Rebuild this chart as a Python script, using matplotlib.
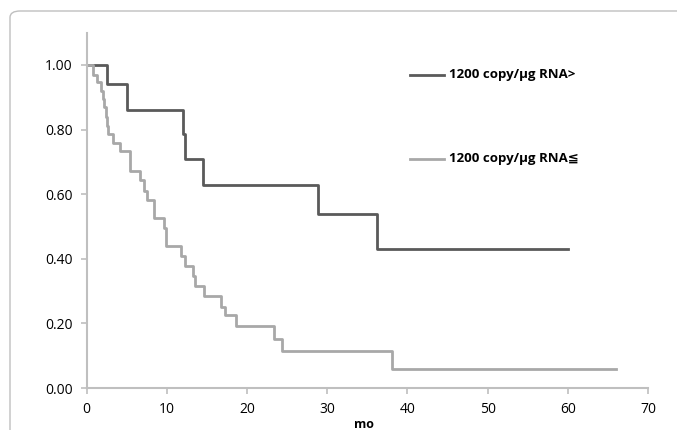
import matplotlib
matplotlib.use("Agg")
import matplotlib.pyplot as plt
from matplotlib.patches import FancyBboxPatch

plt.rcParams['font.family'] = ['Open Sans', 'DejaVu Sans']

# high group (dark line)
t_high = [0, 2.5, 5.0, 12.0, 12.3, 14.5, 28.8, 36.2, 60]
s_high = [1.0, 0.94, 0.862, 0.785, 0.71, 0.628, 0.539, 0.431, 0.431]

# low group (light line)
t_low = [0, 0.8, 1.25, 1.8, 2.0, 2.2, 2.4, 2.55, 2.7, 3.3, 4.1, 5.4, 6.65, 7.1,
         7.5, 8.4, 9.6, 9.9, 11.7, 12.2, 13.2, 13.45, 14.6, 16.8, 17.2, 18.6,
         23.3, 24.3, 38.1, 66]
s_low = [1.0, 0.97, 0.948, 0.92, 0.895, 0.87, 0.84, 0.81, 0.785, 0.76, 0.733,
         0.673, 0.645, 0.611, 0.581, 0.527, 0.496, 0.44, 0.409, 0.378, 0.348,
         0.317, 0.286, 0.25, 0.225, 0.191, 0.153, 0.115, 0.058, 0.058]

labels = ["1200 copy/\u03bcg RNA>", "1200 copy/\u03bcg RNA\u2266"]
x_ticks = [0, 10, 20, 30, 40, 50, 60, 70]
y_ticks = [0.0, 0.2, 0.4, 0.6, 0.8, 1.0]

W, H = 677, 430
fig = plt.figure(figsize=(W / 100, H / 100), dpi=100)

# rounded chart frame
frame = FancyBboxPatch((10 / W, -30 / H), 680 / W, (H - 11 + 30) / H,
                       boxstyle="round,pad=0,rounding_size=0.015",
                       transform=fig.transFigure, fill=False,
                       edgecolor="#BFBFBF", linewidth=1.0)
fig.patches.append(frame)

ax = fig.add_axes([86.7 / W, 1 - 388 / H, (648 - 86.7) / W, (388 - 32.7) / H])

dark = "#5A5A5A"
light = "#A8A8A8"
ax.step(t_high, s_high, where="post", color=dark, lw=2.0)
ax.step(t_low, s_low, where="post", color=light, lw=2.0)

ax.set_xlim(0, 70)
ax.set_ylim(0, 1.1)
ax.set_xticks(x_ticks)
ax.set_yticks(y_ticks)
ax.set_yticklabels(["%.2f" % v for v in y_ticks])

for side in ["top", "right"]:
    ax.spines[side].set_visible(False)
for side in ["left", "bottom"]:
    ax.spines[side].set_color("#BFBFBF")
    ax.spines[side].set_linewidth(1.5)
ax.tick_params(axis="both", direction="out", length=4, width=1.2,
               color="#BFBFBF", labelsize=10, labelcolor="black")
ax.tick_params(axis="y", pad=6)
ax.tick_params(axis="x", pad=6)

# legend drawn by hand
for y, c, lab in [(0.97, dark, labels[0]), (0.71, light, labels[1])]:
    ax.plot([40.3, 44.6], [y, y], color=c, lw=2.0, clip_on=False)
    ax.text(45.2, y, lab, fontsize=9.5, fontweight="bold", va="center", ha="left")

fig.text((86.7 + 648) / 2 / W - 0.005, 6 / H, "mo", fontsize=9, fontweight="bold",
         ha="center", va="center")

fig.savefig("out.png", dpi=100)
